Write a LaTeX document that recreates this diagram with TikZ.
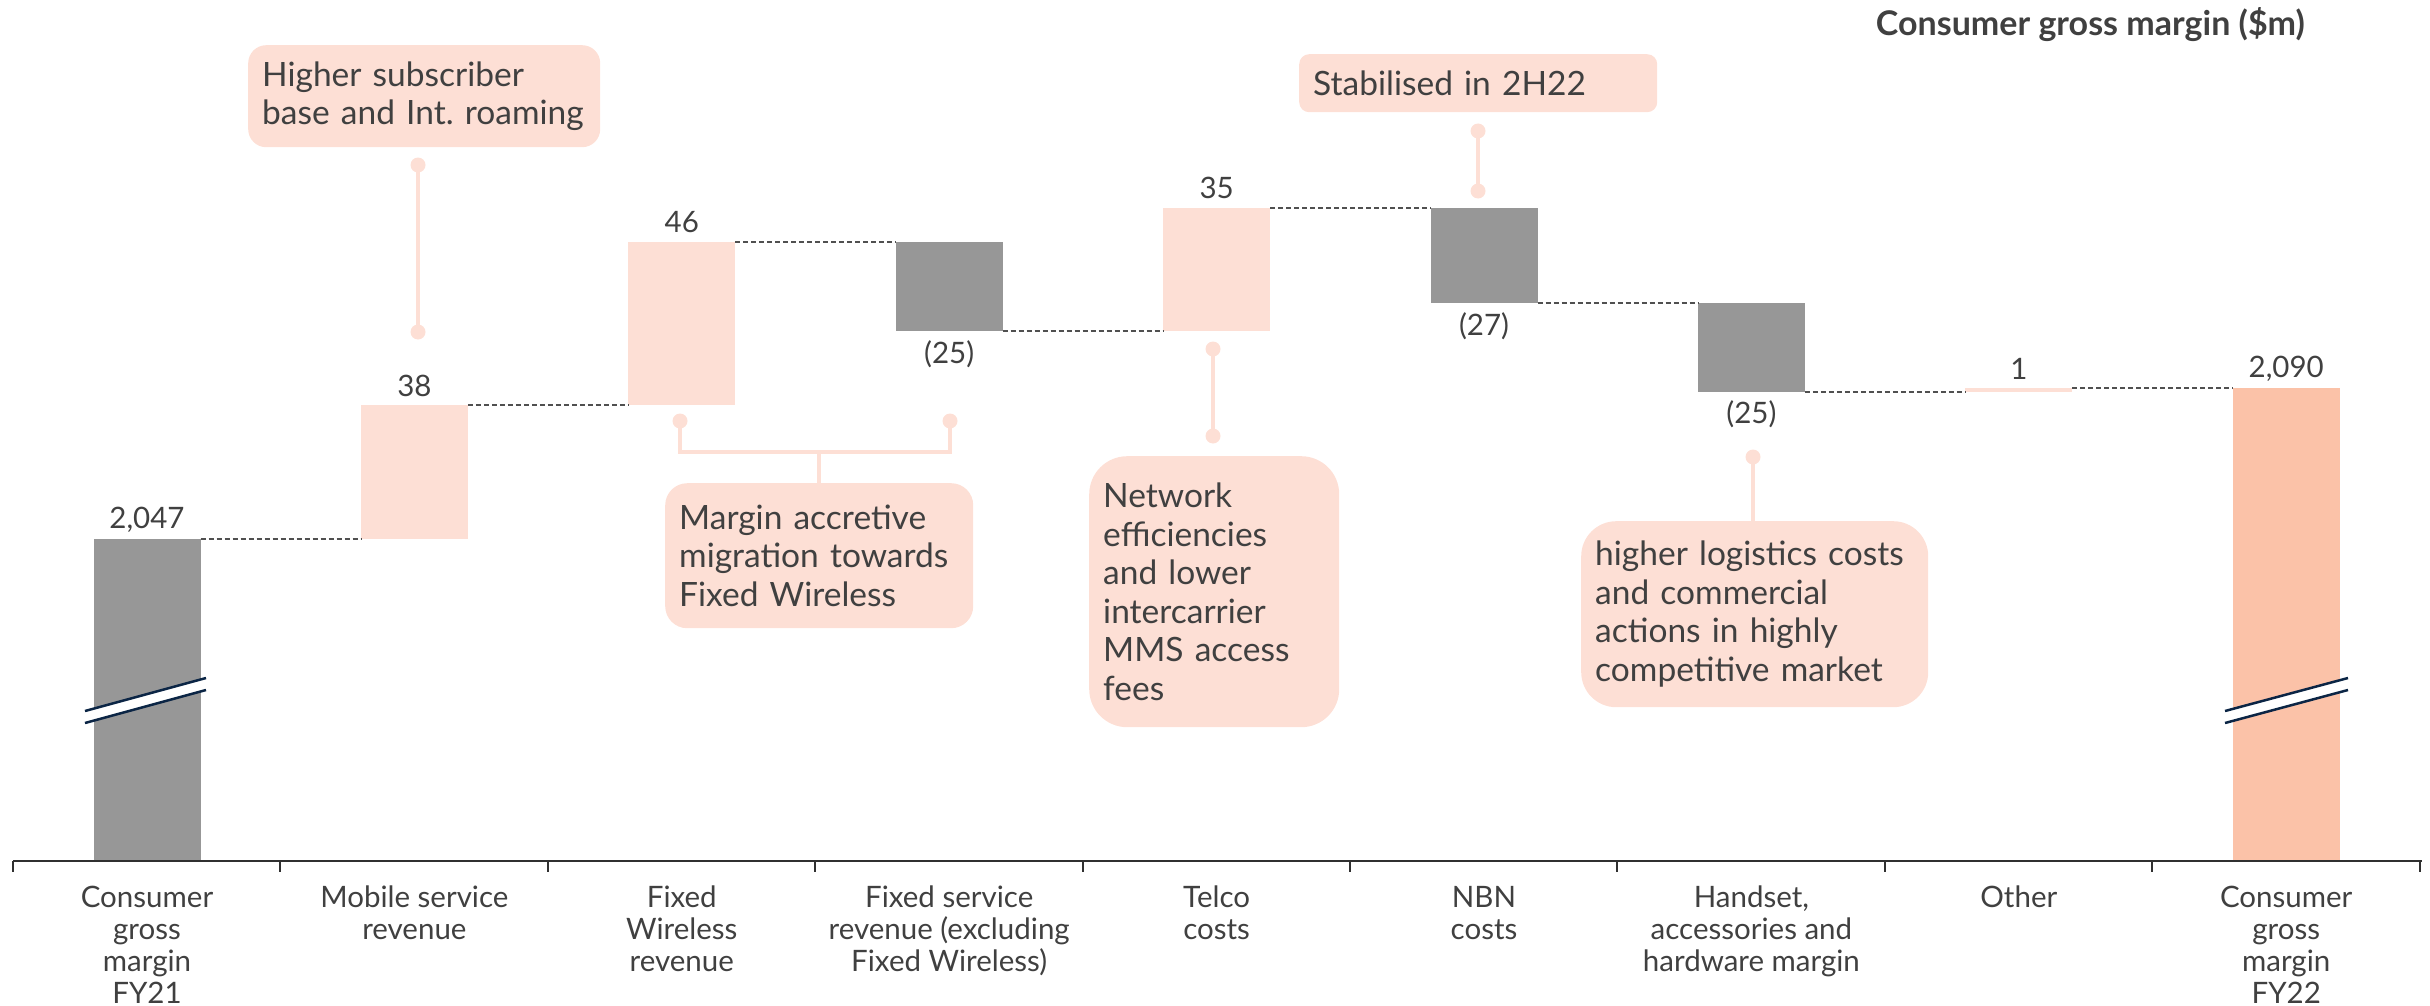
\documentclass[tikz,border=0pt]{standalone}
\usepackage{fontspec}
\setmainfont{Lato}
\frenchspacing
\definecolor{pinkl}{HTML}{FDDFD5}
\definecolor{salmon}{HTML}{FBC2A8}
\definecolor{barg}{HTML}{979797}
\definecolor{navy}{HTML}{0B2545}
\definecolor{txt}{HTML}{404040}
\definecolor{dashc}{HTML}{505050}
\definecolor{axisc}{HTML}{303030}
\begin{document}
\begin{tikzpicture}[x=1pt,y=-1pt,
  bar/.style={rectangle,inner sep=0pt,outer sep=0pt,minimum width=107pt,anchor=north},
  conn/.style={draw=dashc,line width=1.4pt,dash pattern=on 5pt off 3pt},
  num/.style={text=txt,font=\fontsize{29.5}{32}\selectfont,inner sep=0pt},
  cat/.style={text=txt,font=\fontsize{29.5}{32}\selectfont,align=center,inner sep=0pt,anchor=north},
  callout/.style={rectangle,fill=pinkl,inner xsep=14pt,inner ysep=0pt,align=left,anchor=north west,
    text=txt,font=\fontsize{33.5}{38.5}\selectfont},
  dot/.style={circle,fill=pinkl,inner sep=0pt,minimum size=15pt},
  pinline/.style={draw=pinkl,line width=4pt},
  brk/.style={draw=navy,line width=2.5pt}]
\useasboundingbox (0,0) rectangle (2430,1006);

% title
\node[anchor=east,text=txt,font=\bfseries\fontsize{34}{38}\selectfont,inner sep=0pt] (title) at (2305,25) {Consumer gross margin (\$m)};

% bars
\node[bar,fill=barg,minimum height=322pt] (b1) at (147,539) {};
\node[bar,fill=pinkl,minimum height=134pt] (b2) at (414.4,405) {};
\node[bar,fill=pinkl,minimum height=163pt] (b3) at (681.8,242) {};
\node[bar,fill=barg,minimum height=89pt] (b4) at (949.2,242) {};
\node[bar,fill=pinkl,minimum height=123pt] (b5) at (1216.6,208) {};
\node[bar,fill=barg,minimum height=95pt] (b6) at (1484,208) {};
\node[bar,fill=barg,minimum height=89pt] (b7) at (1751.4,303) {};
\node[bar,fill=pinkl,minimum height=4pt] (b8) at (2018.8,388) {};
\node[bar,fill=salmon,minimum height=473pt] (b9) at (2286.2,388) {};

% dashed connectors
\draw[conn] (b1.north east) -- (b2.south west);
\draw[conn] (b2.north east) -- (b3.south west);
\draw[conn] (b3.north east) -- (b4.north west);
\draw[conn] (b4.south east) -- (b5.south west);
\draw[conn] (b5.north east) -- (b6.north west);
\draw[conn] (b6.south east) -- (b7.north west);
\draw[conn] (b7.south east) -- (b8.south west);
\draw[conn] (b8.north east) -- (b9.north west);

% value labels
\node[num,anchor=base] (v1) at ([yshift=11pt]b1.north) {2,047};
\node[num,anchor=base] (v2) at ([yshift=9pt]b2.north) {38};
\node[num,anchor=base] (v3) at ([yshift=10pt]b3.north) {46};
\node[num,anchor=base] (v4) at ([yshift=-32pt]b4.south) {(25)};
\node[num,anchor=base] (v5) at ([yshift=10pt]b5.north) {35};
\node[num,anchor=base] (v6) at ([yshift=-32pt]b6.south) {(27)};
\node[num,anchor=base] (v7) at ([yshift=-31pt]b7.south) {(25)};
\node[num,anchor=base] (v8) at ([yshift=9pt]b8.north) {1};
\node[num,anchor=base] (v9) at ([yshift=11pt]b9.north) {2,090};

% axis breaks
\fill[white] (85,711) -- (206,678) -- (206,690) -- (85,723) -- cycle;
\draw[brk] (85,711) -- (206,678);
\draw[brk] (85,723) -- (206,690);
\fill[white] (2225,711) -- (2348,678) -- (2348,690) -- (2225,723) -- cycle;
\draw[brk] (2225,711) -- (2348,678);
\draw[brk] (2225,723) -- (2348,690);

% axis
\draw[axisc,line width=2pt] (13,861) -- (2422,861);
\foreach \i in {0,...,9} {\draw[axisc,line width=2pt] (13+267.4*\i,861) -- ++(0,11);}

% category labels
\node[cat] (c1) at (147,886) {Consumer\\gross\\margin\\FY21};
\node[cat] (c2) at (414.4,886) {Mobile service\\revenue};
\node[cat] (c3) at (681.8,886) {Fixed\\Wireless\\revenue};
\node[cat] (c4) at (949.2,886) {Fixed service\\revenue (excluding\\Fixed Wireless)};
\node[cat] (c5) at (1216.6,886) {Telco\\costs};
\node[cat] (c6) at (1484,886) {NBN\\costs};
\node[cat] (c7) at (1751.4,886) {Handset,\\accessories and\\hardware margin};
\node[cat] (c8) at (2018.8,886) {Other};
\node[cat] (c9) at (2286.2,886) {Consumer\\gross\\margin\\FY22};

% callouts
\node[callout,minimum height=102pt,text width=324pt,rounded corners=18pt] (ca) at (248,45)
  {Higher subscriber\\base and Int. roaming};
\node[callout,minimum height=145pt,text width=280pt,rounded corners=22pt] (cb) at (665,483)
  {Margin accretive\\migration towards\\Fixed Wireless};
\node[callout,minimum height=271pt,text width=222pt,rounded corners=38pt] (cc) at (1089,456)
  {Network\\efficiencies\\and lower\\intercarrier\\MMS access\\fees};
\node[callout,minimum height=58pt,text width=330pt,rounded corners=10pt] (cd) at (1299,54)
  {Stabilised in 2H22};
\node[callout,minimum height=186pt,text width=319pt,rounded corners=35pt] (ce) at (1581,521)
  {higher logistics costs\\and commercial\\actions in highly\\competitive market};

% pins
\node[dot] (pa1) at (418,165) {};
\node[dot] (pa2) at (418,332) {};
\draw[pinline] (pa1.center) -- (pa2.center);

\node[dot] (pb1) at (680,421) {};
\node[dot] (pb2) at (950,421) {};
\coordinate (pbm) at ([yshift=31pt]cb.north);
\draw[pinline] (pb1.center) |- (pbm) -| (pb2.center);
\draw[pinline] (cb.north) -- (pbm);

\node[dot] (pc1) at (1213,349) {};
\node[dot] (pc2) at (1213,436) {};
\draw[pinline] (pc1.center) -- (pc2.center);

\node[dot] (pd1) at (1478,131) {};
\node[dot] (pd2) at (1478,191) {};
\draw[pinline] (pd1.center) -- (pd2.center);

\node[dot] (pe1) at (1753,457) {};
\draw[pinline] (pe1.center) -- (pe1.center |- ce.north);
\end{tikzpicture}
\end{document}
